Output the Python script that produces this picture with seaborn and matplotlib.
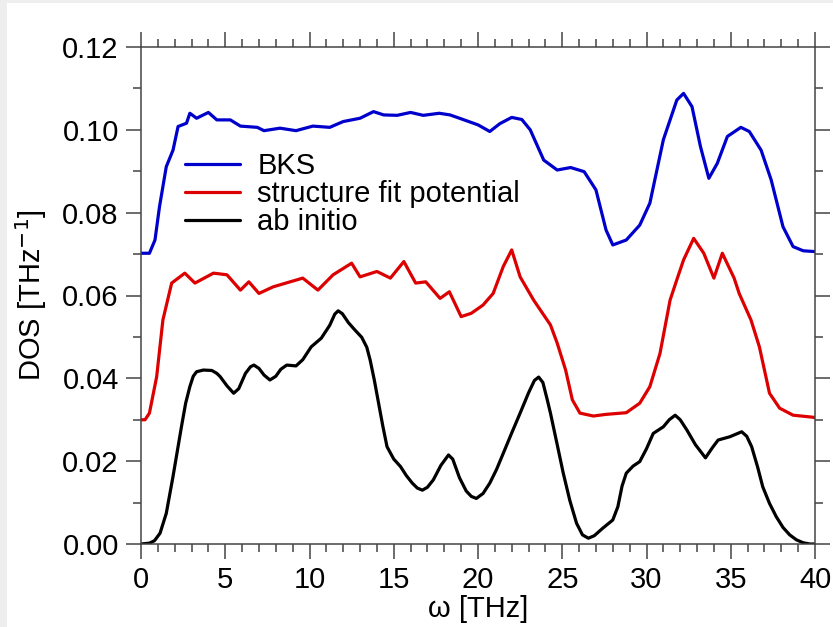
import matplotlib
matplotlib.use("Agg")
import matplotlib.pyplot as plt
from matplotlib.patches import Rectangle
from matplotlib.ticker import MultipleLocator, FormatStrFormatter
import pandas as pd
import seaborn as sns

# Vibrational density of states for three descriptions of the same system
bks_w = [0.0, 0.5, 0.83, 1.1, 1.5, 1.9, 2.2, 2.7, 2.9, 3.3, 4.0, 4.5, 5.3, 5.9, 6.9, 7.3,
         8.25, 9.2, 10.2, 11.2, 12.0, 13.0, 13.8, 14.4, 15.2, 16.0, 16.75, 17.7, 18.34,
         18.9, 20.0, 20.7, 21.3, 22.0, 22.6, 23.1, 23.9, 24.7, 25.5, 26.3, 27.0, 27.6,
         28.0, 28.8, 29.6, 30.2, 31.0, 31.8, 32.2, 32.7, 33.2, 33.7, 34.2, 34.8, 35.6,
         36.1, 36.8, 37.4, 38.1, 38.7, 39.3, 40.0]
bks_dos = [0.0702, 0.0702, 0.0734, 0.0815, 0.0911, 0.0951, 0.1008, 0.1016, 0.1040, 0.1028,
           0.1042, 0.1024, 0.1024, 0.1009, 0.1006, 0.0998, 0.1004, 0.0998, 0.1009, 0.1006,
           0.1020, 0.1028, 0.1044, 0.1036, 0.1035, 0.1042, 0.1035, 0.1040, 0.1036, 0.1028,
           0.1012, 0.0996, 0.1015, 0.1030, 0.1025, 0.1000, 0.0927, 0.0903, 0.0909, 0.0899,
           0.0855, 0.0758, 0.0722, 0.0734, 0.0770, 0.0823, 0.0976, 0.1072, 0.1088, 0.1056,
           0.0960, 0.0883, 0.0919, 0.0984, 0.1006, 0.0996, 0.0951, 0.0879, 0.0766, 0.0718,
           0.0708, 0.0706]

sfp_w = [0.0, 0.24, 0.5, 0.93, 1.3, 1.82, 2.6, 3.2, 4.3, 5.1, 5.9, 6.4, 7.0, 7.85, 9.6,
         10.5, 11.4, 12.5, 13.0, 14.0, 14.8, 15.6, 16.3, 16.9, 17.75, 18.3, 19.0, 19.6,
         20.3, 20.9, 21.5, 22.0, 22.5, 23.3, 24.3, 24.7, 25.2, 25.6, 26.05, 26.85, 27.6,
         28.8, 29.6, 30.2, 30.8, 31.4, 31.8, 32.2, 32.8, 33.4, 34.0, 34.5, 35.2, 35.5,
         36.2, 36.7, 37.3, 37.9, 38.7, 39.9, 40.0]
sfp_dos = [0.0300, 0.0300, 0.0316, 0.0404, 0.0541, 0.0630, 0.0654, 0.0630, 0.0654, 0.0650,
           0.0613, 0.0633, 0.0605, 0.0621, 0.0642, 0.0613, 0.0650, 0.0678, 0.0645, 0.0658,
           0.0642, 0.0682, 0.0630, 0.0633, 0.0593, 0.0609, 0.0549, 0.0557, 0.0577, 0.0605,
           0.0670, 0.0710, 0.0645, 0.0589, 0.0529, 0.0485, 0.0420, 0.0348, 0.0316, 0.0309,
           0.0313, 0.0317, 0.0340, 0.0380, 0.0460, 0.0589, 0.0638, 0.0686, 0.0738, 0.0702,
           0.0642, 0.0702, 0.0642, 0.0605, 0.0541, 0.0476, 0.0364, 0.0328, 0.0311, 0.0306,
           0.0305]

abi_w = [0.0, 0.5, 0.8, 1.13, 1.5, 1.9, 2.2, 2.4, 2.65, 2.9, 3.1, 3.3, 3.7, 4.2, 4.5,
         4.7, 5.1, 5.5, 5.8, 6.2, 6.5, 6.7, 7.0, 7.3, 7.65, 8.0, 8.3, 8.65, 9.2, 9.6,
         10.1, 10.7, 11.2, 11.5, 11.7, 11.95, 12.3, 12.6, 13.1, 13.4, 13.6, 13.85, 14.1,
         14.35, 14.6, 15.0, 15.4, 15.75, 16.1, 16.4, 16.7, 17.0, 17.35, 17.8, 18.25, 18.5,
         18.9, 19.3, 19.6, 19.9, 20.3, 20.7, 21.1, 21.5, 22.0, 22.5, 23.0, 23.35, 23.6,
         23.85, 24.1, 24.3, 24.7, 25.06, 25.45, 25.85, 26.2, 26.55, 26.9, 27.4, 27.7, 28.0,
         28.3, 28.55, 28.8, 29.2, 29.6, 30.0, 30.4, 31.0, 31.35, 31.7, 32.0, 32.4, 32.9,
         33.5, 33.9, 34.25, 34.95, 35.3, 35.65, 35.95, 36.24, 36.6, 36.9, 37.3, 37.7, 38.1,
         38.5, 38.9, 39.3, 39.7, 40.0]
abi_dos = [0.0000, 0.0002, 0.0008, 0.0026, 0.0074, 0.0163, 0.0235, 0.0283, 0.0340, 0.0380,
           0.0405, 0.0416, 0.0420, 0.0419, 0.0412, 0.0404, 0.0382, 0.0364, 0.0375, 0.0412,
           0.0428, 0.0432, 0.0424, 0.0408, 0.0396, 0.0405, 0.0422, 0.0432, 0.0430, 0.0445,
           0.0476, 0.0497, 0.0528, 0.0555, 0.0563, 0.0556, 0.0535, 0.0521, 0.0499, 0.0475,
           0.0444, 0.0395, 0.0340, 0.0285, 0.0235, 0.0205, 0.0187, 0.0165, 0.0147, 0.0135,
           0.0130, 0.0137, 0.0155, 0.0190, 0.0215, 0.0205, 0.0160, 0.0128, 0.0115, 0.0110,
           0.0122, 0.0147, 0.0180, 0.0219, 0.0268, 0.0316, 0.0365, 0.0395, 0.0403, 0.0390,
           0.0350, 0.0316, 0.0240, 0.0171, 0.0105, 0.0050, 0.0022, 0.0014, 0.0020, 0.0038,
           0.0048, 0.0058, 0.0090, 0.0140, 0.0171, 0.0188, 0.0199, 0.0230, 0.0267, 0.0283,
           0.0300, 0.0311, 0.0300, 0.0275, 0.0240, 0.0208, 0.0232, 0.0251, 0.0259, 0.0265,
           0.0271, 0.0260, 0.0235, 0.0185, 0.0138, 0.0098, 0.0066, 0.0040, 0.0022, 0.0010,
           0.0003, 0.0000, 0.0000]

series = [("BKS", bks_w, bks_dos, "#0000cc"),
          ("structure fit potential", sfp_w, sfp_dos, "#dd0000"),
          ("ab initio", abi_w, abi_dos, "#000000")]

sns.set_theme(style="ticks")
plt.rcParams["font.family"] = ["Liberation Sans", "DejaVu Sans"]
plt.rcParams["text.color"] = "black"
plt.rcParams["axes.labelcolor"] = "black"

W, H = 833, 627
fig = plt.figure(figsize=(W / 100, H / 100), dpi=100, facecolor="#eeeeee")
# white page area with a thin grey margin on the left and top
fig.patches.append(Rectangle((7 / W, 0), 1 - 7 / W, 1 - 3 / H, transform=fig.transFigure,
                             facecolor="white", edgecolor="none", zorder=-10))
ax = fig.add_axes([141 / W, 1 - 544 / H, (815 - 141) / W, (544 - 47) / H])
ax.set_facecolor("white")

for name, w, d, col in series:
    df = pd.DataFrame({"w": w, "dos": d})
    sns.lineplot(data=df, x="w", y="dos", ax=ax, color=col, lw=2.3, label=name,
                 estimator=None, sort=True)

ax.set_xlim(0, 40)
ax.set_ylim(0, 0.12)
ax.xaxis.set_major_locator(MultipleLocator(5))
ax.xaxis.set_minor_locator(MultipleLocator(1))
ax.yaxis.set_major_locator(MultipleLocator(0.02))
ax.yaxis.set_minor_locator(MultipleLocator(0.01))
ax.yaxis.set_major_formatter(FormatStrFormatter("%.2f"))

spine_col = "#444444"
for s in ax.spines.values():
    s.set_visible(True)
    s.set_color(spine_col)
    s.set_linewidth(1.1)

ax.tick_params(which="both", direction="out", top=True, right=True,
               color=spine_col, width=1.1, labelsize=21, labelcolor="black")
ax.tick_params(which="major", length=10.5, pad=5.5)
ax.tick_params(which="minor", length=5.5)

ax.set_xlabel("ω [THz]", fontsize=21, color="black")
ax.set_ylabel("DOS [THz$^{-1}$]", fontsize=21, color="black")
ax.xaxis.set_label_coords(0.5, -0.102)
ax.yaxis.set_label_coords(-0.136, 0.5)

leg = ax.legend(loc="upper left", bbox_to_anchor=(0.065, 0.788), frameon=False,
                fontsize=21, handlelength=1.9, handletextpad=0.58, labelspacing=0.0,
                borderaxespad=0, borderpad=0)
for line in leg.get_lines():
    line.set_linewidth(2.3)
for t in leg.get_texts():
    t.set_color("black")

fig.savefig("out.png", dpi=100, facecolor=fig.get_facecolor())
